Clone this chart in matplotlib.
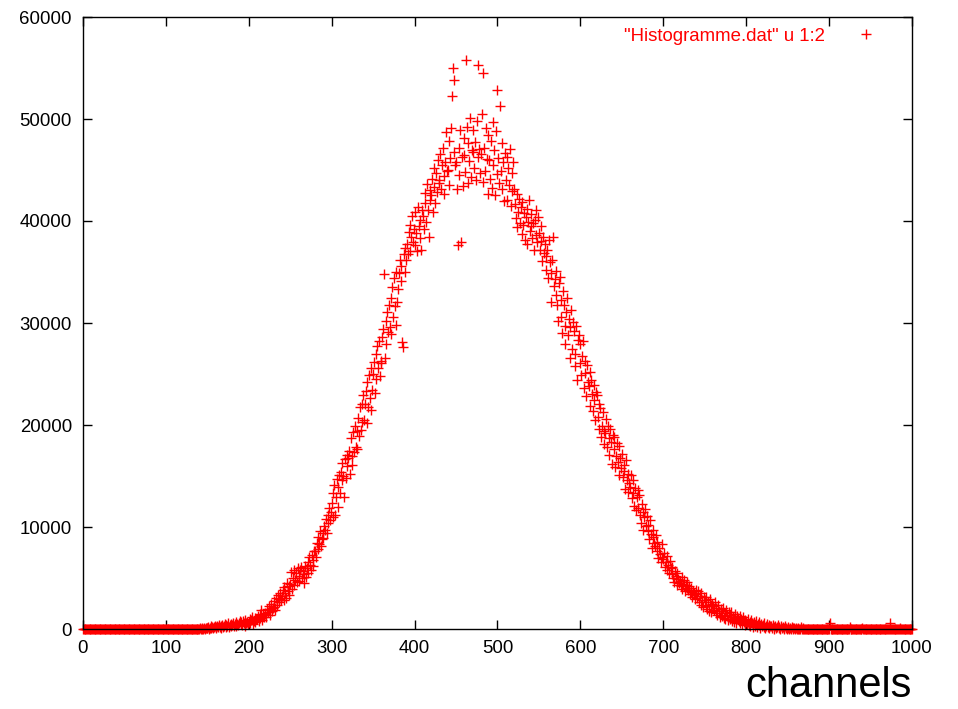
import matplotlib
matplotlib.use('Agg')
import numpy as np
import matplotlib.pyplot as plt

plt.rcParams['font.family'] = ['Liberation Sans', 'DejaVu Sans']

# counts in hundreds, channels 140..869
mid_start = 140
mid_counts = [
    0, 1, 0, 0, 1, 0, 1, 0, 1, 1,
    1, 2, 0, 1, 3, 1, 2, 1, 2, 3,
    2, 1, 3, 2, 4, 2, 1, 3, 4, 2,
    3, 5, 2, 4, 3, 6, 2, 4, 5, 3,
    4, 6, 3, 5, 7, 3, 5, 4, 6, 8,
    5, 7, 4, 8, 6, 3, 9, 6, 7, 5,
    7, 10, 6, 9, 12, 5, 8, 11, 7, 10,
    10, 13, 8, 15, 11, 19, 9, 14, 12, 16,
    15, 12, 20, 17, 23, 14, 19, 25, 18, 21,
    22, 27, 19, 30, 24, 33, 26, 29, 35, 28,
    32, 38, 28, 41, 35, 30, 45, 37, 42, 33,
    44, 56, 39, 50, 58, 43, 48, 55, 46, 60,
    52, 47, 58, 61, 50, 57, 45, 54, 62, 51,
    60, 66, 55, 71, 63, 58, 73, 68, 62, 76,
    76, 71, 84, 90, 78, 83, 96, 81, 88, 94,
    89, 101, 97, 108, 94, 112, 104, 119, 107, 115,
    124, 110, 133, 141, 112, 129, 147, 120, 139, 151,
    133, 154, 146, 163, 150, 129, 167, 148, 171, 160,
    168, 175, 152, 187, 170, 161, 193, 174, 199, 178,
    194, 176, 207, 189, 218, 195, 221, 203, 229, 205,
    221, 233, 202, 242, 218, 249, 226, 215, 256, 234,
    250, 262, 231, 270, 245, 277, 256, 282, 248, 263,
    261, 286, 294, 348, 266, 302, 279, 311, 291, 318,
    296, 325, 289, 335, 306, 344, 317, 298, 350, 321,
    333, 349, 362, 341, 356, 281, 276, 368, 350, 374,
    362, 377, 368, 389, 371, 396, 384, 405, 379, 392,
    376, 409, 388, 371, 414, 395, 383, 401, 372, 411,
    405, 392, 418, 427, 399, 436, 411, 384, 421, 430,
    425, 441, 409, 452, 433, 418, 447, 428, 460, 437,
    440, 466, 431, 455, 472, 444, 426, 458, 487, 449,
    450, 435, 478, 462, 491, 523, 550, 468, 538, 455,
    458, 431, 376, 472, 445, 489, 379, 463, 434, 481,
    465, 448, 558, 492, 437, 476, 459, 501, 443, 470,
    468, 489, 452, 477, 440, 498, 463, 553, 471, 447,
    466, 505, 438, 545, 472, 449, 491, 461, 426, 484,
    460, 441, 478, 432, 497, 455, 470, 425, 488, 446,
    528, 462, 437, 513, 449, 476, 431, 458, 420, 467,
    440, 463, 421, 452, 435, 471, 415, 447, 429, 458,
    431, 417, 403, 426, 394, 409, 422, 398, 414, 387,
    419, 396, 408, 381, 404, 412, 377, 399, 421, 390,
    395, 407, 383, 398, 372, 401, 411, 386, 379, 404,
    388, 372, 395, 380, 361, 384, 369, 377, 352, 366,
    372, 344, 381, 360, 349, 321, 362, 384, 336, 343,
    327, 351, 318, 302, 339, 345, 306, 323, 290, 331,
    318, 297, 279, 311, 325, 288, 304, 266, 296, 313,
    275, 301, 292, 258, 270, 297, 244, 283, 288, 261,
    279, 249, 268, 282, 236, 251, 263, 228, 259, 242,
    238, 252, 219, 244, 230, 214, 239, 225, 205, 232,
    229, 208, 196, 221, 217, 188, 199, 213, 194, 181,
    192, 206, 178, 199, 187, 171, 196, 183, 162, 190,
    176, 188, 159, 170, 182, 164, 151, 179, 168, 158,
    172, 149, 161, 155, 137, 166, 146, 152, 134, 143,
    139, 151, 128, 133, 146, 121, 138, 117, 129, 136,
    119, 131, 112, 104, 123, 115, 97, 110, 118, 101,
    111, 96, 102, 88, 107, 93, 79, 97, 90, 84,
    81, 92, 76, 85, 70, 79, 74, 66, 83, 71,
    69, 75, 61, 66, 58, 72, 63, 55, 67, 60,
    54, 61, 50, 46, 57, 52, 43, 55, 49, 45,
    47, 42, 51, 39, 44, 48, 37, 43, 40, 46,
    38, 42, 34, 36, 40, 31, 37, 35, 29, 38,
    34, 30, 37, 26, 32, 24, 35, 28, 22, 31,
    28, 23, 31, 20, 26, 18, 29, 24, 17, 25,
    23, 19, 26, 16, 21, 14, 24, 18, 12, 20,
    18, 13, 21, 11, 16, 10, 19, 14, 9, 17,
    14, 10, 17, 8, 12, 7, 15, 11, 6, 13,
    11, 8, 13, 6, 10, 5, 12, 7, 4, 9,
    8, 5, 10, 4, 7, 3, 9, 6, 2, 7,
    6, 3, 8, 2, 5, 4, 7, 1, 5, 3,
    4, 2, 6, 1, 3, 5, 2, 4, 1, 3,
    3, 1, 4, 2, 0, 3, 1, 2, 4, 1,
    2, 0, 3, 1, 2, 0, 1, 3, 1, 0,
    1, 2, 0, 1, 0, 2, 1, 0, 1, 0,
    1, 0, 0, 1, 0, 0, 2, 0, 1, 0,
]
# a few isolated non-zero channels in the right tail (hundreds)
tail_bumps = {901: 6, 925: 2, 940: 1, 973: 6, 985: 1}

channels = np.arange(0, 1001)
counts = np.zeros(len(channels))
counts[mid_start:mid_start + len(mid_counts)] = mid_counts
for ch, v in tail_bumps.items():
    counts[ch] = v
counts = counts * 100

fig = plt.figure(figsize=(9.58, 7.09), dpi=100)
ax = fig.add_axes([83 / 958, 80 / 709, 829 / 958, 612 / 709])

ax.plot(channels, counts, linestyle='none', marker='+', markersize=7,
        markeredgewidth=1.0, color='#ff0000', clip_on=False,
        label='"Histogramme.dat" u 1:2')

ax.set_xlim(0, 1000)
ax.set_ylim(0, 60000)
ax.set_xticks(np.arange(0, 1001, 100))
ax.set_yticks(np.arange(0, 60001, 10000))
ax.tick_params(direction='in', length=6.5, width=1, top=True, right=True,
               labelsize=13.4, pad=8)
for s in ax.spines.values():
    s.set_linewidth(1)

fig.text(912 / 958, 12 / 709, 'channels', fontsize=30, ha='right', va='baseline')

ax.legend(loc='upper right', bbox_to_anchor=(0.983, 1.004), frameon=False,
          markerfirst=False, fontsize=13.4, labelcolor='#ff0000',
          handlelength=2.0, handletextpad=1.2, borderaxespad=0.3)

fig.savefig('out.png', dpi=100)
